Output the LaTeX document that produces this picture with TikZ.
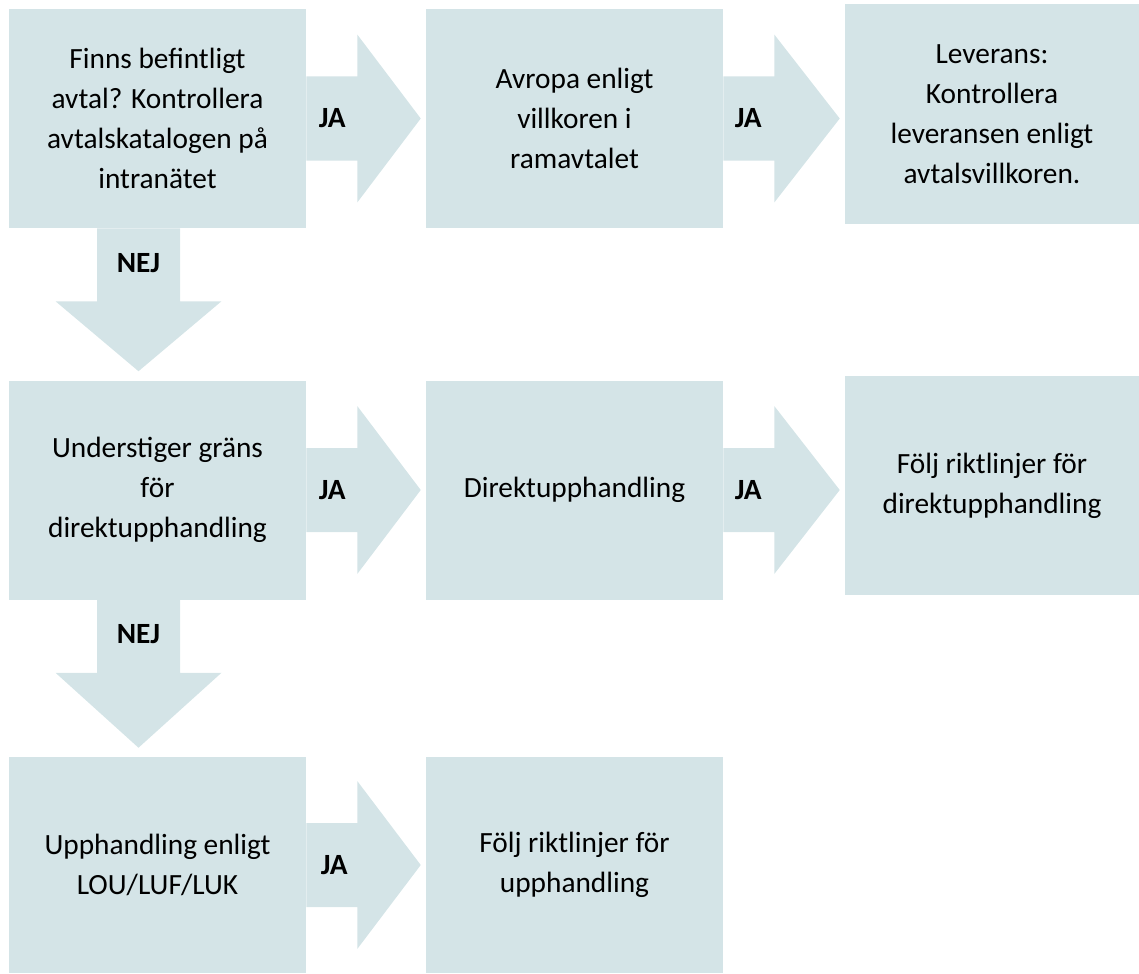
\documentclass[tikz,border=0pt]{standalone}
\usepackage{fontspec}
\setmainfont{Carlito}
\usetikzlibrary{calc}
\definecolor{rutfarg}{RGB}{212,228,231}

% block arrow to the right, from box #1 towards box #2
\newcommand{\pilhoger}[2]{%
  \fill[pil] ($(#1.east)+(0,-42)$) -- ++(51,0) -- ++(0,-42)
    -- ($(#1.east -| #2.west)+(-5,0)$) -- ($(#1.east)+(51,84)$) -- ++(0,-42)
    -- ($(#1.east)+(0,42)$) -- cycle;}
% block arrow downwards, from box #1 towards box #2
\newcommand{\pilned}[2]{%
  \fill[pil] ($(#1.south)+(-60.5,0)$) -- ++(0,73) -- ++(-41.5,0)
    -- ($(#2.north)+(-19,-9)$) -- ($(#1.south)+(64,73)$) -- ++(-41.5,0)
    -- ($(#1.south)+(22.5,0)$) -- cycle;}

\begin{document}
\begin{tikzpicture}[x=0.75pt,y=-0.75pt, % pixel units, y downwards
  ruta/.style={fill=rutfarg,inner sep=0pt,minimum width=222.75pt,
    minimum height=164.25pt,align=center,font=\fontsize{22}{30}\selectfont},
  pil/.style={fill=rutfarg},
  svar/.style={font=\fontsize{22}{30}\selectfont\bfseries}]

  \useasboundingbox (0,0) rectangle (1139,974);

  \node[ruta] (finns) at (157.5,118.5) {Finns befintligt\\avtal? Kontrollera\\avtalskatalogen på\\intranätet};
  \node[ruta] (avropa) at (574.5,118.5) {Avropa enligt\\villkoren i\\ramavtalet};
  \node[ruta,minimum width=220.5pt] (leverans) at (992,114) {Leverans:\\Kontrollera\\leveransen enligt\\avtalsvillkoren.};
  \node[ruta] (grans) at (157.5,490) {Understiger gräns\\för\\direktupphandling};
  \node[ruta] (direkt) at (574.5,490) {Direktupphandling};
  \node[ruta,minimum width=220.5pt] (riktdirekt) at (992,485.5) {Följ riktlinjer för\\direktupphandling};
  \node[ruta,minimum height=162pt] (lou) at (157.5,865) {Upphandling enligt\\LOU/LUF/LUK};
  \node[ruta,minimum height=162pt] (riktupph) at (574.5,865) {Följ riktlinjer för\\upphandling};

  \pilhoger{finns}{avropa}
  \pilhoger{avropa}{leverans}
  \pilhoger{grans}{direkt}
  \pilhoger{direkt}{riktdirekt}
  \pilhoger{lou}{riktupph}
  \pilned{finns}{grans}
  \pilned{grans}{lou}

  \node[svar] (ja1) at ($(finns.east)+(26,0)$) {JA};
  \node[svar] (ja2) at ($(avropa.east)+(25,0)$) {JA};
  \node[svar] (ja3) at ($(grans.east)+(26,0)$) {JA};
  \node[svar] (ja4) at ($(direkt.east)+(25,0)$) {JA};
  \node[svar] (ja5) at ($(lou.east)+(28,0)$) {JA};
  \node[svar] (nej1) at ($(finns.south)+(-19,35)$) {NEJ};
  \node[svar] (nej2) at ($(grans.south)+(-19,34)$) {NEJ};

\end{tikzpicture}
\end{document}
